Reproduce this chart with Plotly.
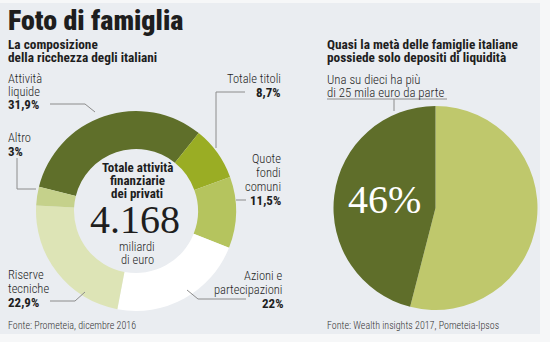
import plotly.graph_objects as go

W, H = 550, 342

# ---------------- data ----------------
donut_categories = ["Attività liquide", "Totale titoli", "Quote fondi comuni",
                    "Azioni e partecipazioni", "Riserve tecniche", "Altro"]
donut_values = [31.9, 8.7, 11.5, 22.0, 22.9, 3.0]
total_value = "4.168"
total_unit = ["miliardi", "di euro"]

pie_categories = ["Solo depositi di liquidità", "Altre famiglie"]
pie_values = [46, 54]

# ---------------- style ----------------
donut_colors = ["#5f6f2a", "#9aad24", "#b5c45e", "#ffffff", "#dde4b6", "#c5d18b"]
pie_colors = ["#5f6e2a", "#bfc86c"]
PANEL = "#eaedf1"
PAGE = "#f6f7f8"
TXT = "#1e1e1e"
LINE = "#8c8c8c"
COND = "Roboto Condensed"
SERIF = "Liberation Serif"


def fmt(v):
    s = f"{v:.1f}".replace(".", ",")
    if s.endswith(",0"):
        s = s[:-2]
    return s + "%"


def px(x):
    return x / W


def py(y):
    return 1 - y / H


fig = go.Figure()

fig.add_trace(go.Pie(
    labels=donut_categories, values=donut_values,
    marker=dict(colors=donut_colors, line=dict(width=0)),
    hole=0.62, sort=False, direction="clockwise", rotation=-76,
    textinfo="none", hoverinfo="skip", showlegend=False,
    domain=dict(x=[px(36), px(236)], y=[py(311), py(111)]),
))

fig.add_trace(go.Pie(
    labels=pie_categories[::-1], values=pie_values[::-1],
    marker=dict(colors=pie_colors[::-1], line=dict(width=0)),
    sort=False, direction="clockwise", rotation=0,
    textinfo="none", hoverinfo="skip", showlegend=False,
    domain=dict(x=[px(333.5), px(537.5)], y=[py(310), py(106)]),
))

ann = []


def txt(x, y, s, size=12, bold=False, anchor="left", family=COND, color=TXT, weight=None):
    f = dict(family=family, size=size, color=color)
    if weight is not None:
        f["weight"] = weight
    elif bold:
        f["weight"] = "bold"
    elif family == COND:
        f["weight"] = 300
    ann.append(dict(x=px(x), y=py(y), xref="paper", yref="paper",
                    text=s, showarrow=False,
                    xanchor=anchor, yanchor="middle", font=f))


# titles
txt(6, 20, "Foto di famiglia", size=28, weight=900)
txt(6, 45, "La composizione", size=13.3, bold=True)
txt(6, 58, "della ricchezza degli italiani", size=13.3, bold=True)

txt(325, 45, "Quasi la metà delle famiglie italiane", size=13.3, bold=True)
txt(325, 58, "possiede solo depositi di liquidità", size=13.3, bold=True)
txt(325, 79, "Una su dieci ha più", size=12.8)
txt(325, 92, "di 25 mila euro da parte", size=12.8)

# donut labels
txt(6, 78, "Attività", size=12.5)
txt(6, 91, "liquide", size=12.5)
txt(6, 104, fmt(donut_values[0]), size=13, bold=True)

txt(6, 137, "Altro", size=12.5)
txt(6, 151, fmt(donut_values[5]), size=13, bold=True)

txt(283, 78, "Totale titoli", size=12.5, anchor="right")
txt(283, 92, fmt(donut_values[1]), size=13, bold=True, anchor="right")

txt(283, 158, "Quote", size=12.5, anchor="right")
txt(283, 172, "fondi", size=12.5, anchor="right")
txt(283, 186, "comuni", size=12.5, anchor="right")
txt(283, 200, fmt(donut_values[2]), size=13, bold=True, anchor="right")

txt(285, 275, "Azioni e", size=12.5, anchor="right")
txt(285, 289, "partecipazioni", size=12.5, anchor="right")
txt(285, 303, fmt(donut_values[3]), size=13, bold=True, anchor="right")

txt(6, 274, "Riserve", size=12.5)
txt(6, 288, "tecniche", size=12.5)
txt(6, 302, fmt(donut_values[4]), size=13, bold=True)

# donut centre
txt(137, 167, "Totale attività", size=13, bold=True, anchor="center")
txt(137, 180, "finanziarie", size=13, bold=True, anchor="center")
txt(137, 193, "dei privati", size=13, bold=True, anchor="center")
txt(135, 219, total_value, size=40, anchor="center", family=SERIF)
txt(137, 246, total_unit[0], size=12.5, anchor="center")
txt(137, 259, total_unit[1], size=12.5, anchor="center")

# right pie label
txt(384, 199, f"{pie_values[0]}%", size=40, anchor="center", family=SERIF, color="#ffffff")

# sources
txt(6, 325, "Fonte: Prometeia, dicembre 2016", size=10, color="#333333")
txt(325, 325, "Fonte: Wealth insights 2017, Pometeia-Ipsos", size=10, color="#333333")


# leader lines
def path(points):
    d = "M " + " L ".join(f"{px(x)},{py(y)}" for x, y in points)
    return dict(type="path", xref="paper", yref="paper", path=d,
                line=dict(color=LINE, width=1))


shapes = [
    dict(type="rect", xref="paper", yref="paper", x0=px(540), x1=1, y0=0, y1=1,
         fillcolor=PAGE, line=dict(width=0), layer="below"),
    dict(type="rect", xref="paper", yref="paper", x0=0, x1=1, y0=0, y1=py(334),
         fillcolor=PAGE, line=dict(width=0), layer="below"),
    dict(type="rect", xref="paper", yref="paper", x0=0, x1=1, y0=py(3), y1=1,
         fillcolor=PAGE, line=dict(width=0), layer="below"),
    path([(50, 104), (85, 104), (95, 112)]),
    path([(17, 158), (17, 189), (36, 189)]),
    path([(245, 92), (216, 92), (216, 148)]),
    path([(236, 200), (246, 200)]),
    path([(187, 290), (198, 299), (246, 299)]),
    path([(50, 301), (75, 301), (85, 292)]),
    path([(327, 99), (447, 99)]),
    path([(394, 99), (394, 111)]),
]

fig.update_layout(
    width=W, height=H, margin=dict(l=0, r=0, t=0, b=0),
    paper_bgcolor=PANEL, plot_bgcolor=PANEL,
    annotations=ann, shapes=shapes, showlegend=False,
)

fig.write_html("out.html", config={"displayModeBar": False})
